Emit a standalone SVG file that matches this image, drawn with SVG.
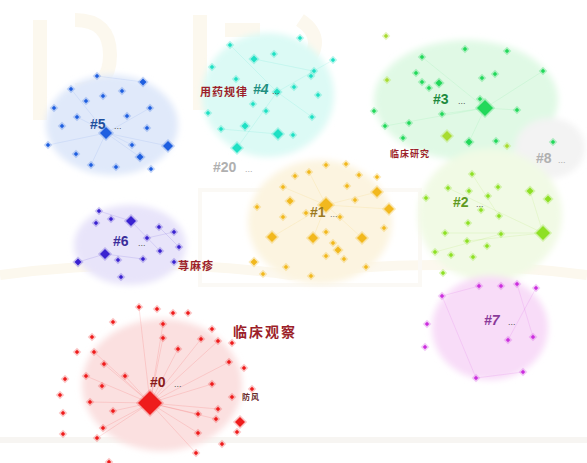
<svg xmlns="http://www.w3.org/2000/svg" xmlns:xlink="http://www.w3.org/1999/xlink" width="587" height="463" viewBox="0 0 587 463">
<defs>
<filter id="soft" x="-20%" y="-20%" width="140%" height="140%"><feGaussianBlur stdDeviation="3"/></filter>
<path id="d" d="M0,-2.2 L2.2,0 L0,2.2 L-2.2,0Z"/>
<path id="m" d="M0,-3.5 L3.5,0 L0,3.5 L-3.5,0Z"/>
<path id="b" d="M0,-5 L5,0 L0,5 L-5,0Z"/>
<style>
.hull{filter:url(#soft)}
.lbl{font-family:"Liberation Sans",Arial,sans-serif;font-weight:bold;font-size:14px}
.dots{font-family:"Liberation Sans",Arial,sans-serif;font-size:9px}
.cn{font-family:"Noto Sans CJK SC","Noto Sans",sans-serif;font-weight:bold;fill:#9c1f2a;letter-spacing:1px}
.g0{fill:#ee1c1c;stroke:#ee1c1c;stroke-opacity:.25;stroke-width:3}
.g1{fill:#f2b81e;stroke:#f2b81e;stroke-opacity:.3;stroke-width:3}
.g2{fill:#8ee024;stroke:#8ee024;stroke-opacity:.3;stroke-width:3}
.g3{fill:#22d85a;stroke:#22d85a;stroke-opacity:.3;stroke-width:3}
.g4{fill:#1fe0c4;stroke:#1fe0c4;stroke-opacity:.3;stroke-width:3}
.g5{fill:#1f5fe0;stroke:#1f5fe0;stroke-opacity:.25;stroke-width:3}
.g6{fill:#3a22d0;stroke:#3a22d0;stroke-opacity:.25;stroke-width:3}
.g7{fill:#cc2ede;stroke:#cc2ede;stroke-opacity:.25;stroke-width:3}
.yg{fill:#a8dc30;stroke:#a8dc30;stroke-opacity:.3;stroke-width:3}
.ln{fill:none;stroke-width:.6}
</style>
</defs>
<rect width="587" height="463" fill="#ffffff"/>
<g id="background" fill="none" stroke="#fcf8ee" stroke-width="14">
<path d="M40,20 L40,120 M75,20 Q110,20 110,55 Q110,90 75,90"/>
<path d="M200,15 L200,110 M225,30 L260,30 M300,20 Q330,40 300,70"/>
<path d="M0,275 Q150,255 290,275 Q430,255 587,275" stroke-width="10"/>
<path d="M0,440 L587,440" stroke="#f7f5f2" stroke-width="6"/>
<rect x="200" y="190" width="220" height="95" stroke="#fbf9f5" stroke-width="4"/>
</g>
<g id="hulls" class="hull">
<ellipse cx="112" cy="125" rx="66" ry="50" fill="#e0e9fa"/>
<ellipse cx="268" cy="95" rx="66" ry="62" fill="#dcfaf5"/>
<ellipse cx="466" cy="100" rx="92" ry="60" fill="#e0f9e5"/>
<ellipse cx="550" cy="148" rx="35" ry="30" fill="#f3f3f3"/>
<ellipse cx="490" cy="215" rx="72" ry="66" fill="#f1fae5"/>
<ellipse cx="320" cy="222" rx="72" ry="62" fill="#fcf4e0"/>
<ellipse cx="130" cy="245" rx="56" ry="40" fill="#e8e4fa"/>
<ellipse cx="490" cy="328" rx="58" ry="52" fill="#f8dcf8"/>
<ellipse cx="162" cy="385" rx="80" ry="66" fill="#fbe0e0"/>
</g>
<g id="connectors">
<g class="ln" stroke="#1f5fe0" stroke-opacity=".15"><path d="M106,133 L71,89 M106,133 L150,108 M106,133 L140,157 M106,133 L48,145 M106,133 L168,146 M106,133 L91,165 M97,76 L143,82 M77,117 L132,145"/></g>
<g class="ln" stroke="#1fe0c4" stroke-opacity=".2"><path d="M277,92 L230,45 M277,92 L333,60 M277,92 L237,148 M277,92 L312,117 M278,134 L221,129 M254,59 L313,71"/></g>
<g class="ln" stroke="#22d85a" stroke-opacity=".15"><path d="M485,108 L422,57 M485,108 L543,71 M485,108 L442,114 M485,108 L469,142 M485,108 L385,126 M485,108 L517,110"/></g>
<g class="ln" stroke="#8ee024" stroke-opacity=".2"><path d="M543,233 L448,188 M543,233 L445,233 M543,233 L467,241 M543,233 L530,191 M472,174 L499,216 M435,252 L501,234"/></g>
<g class="ln" stroke="#f2b81e" stroke-opacity=".2"><path d="M326,205 L283,187 M326,205 L377,192 M326,205 L272,237 M326,205 L362,238 M326,205 L313,238 M326,205 L309,172 M326,205 L389,209"/></g>
<g class="ln" stroke="#3a22d0" stroke-opacity=".2"><path d="M131,221 L160,251 M105,254 L143,259 M147,238 L174,232 M105,254 L78,262 M159,227 L179,247 M99,211 L131,221"/></g>
<g class="ln" stroke="#cc2ede" stroke-opacity=".2"><path d="M479,286 L442,296 M442,296 L476,378 M508,340 L536,288 M517,284 L533,337 M476,378 L523,372"/></g>
<g class="ln" stroke="#ee1c1c" stroke-opacity=".22"><path d="M150,403 L139,307 M150,403 L163,324 M150,403 L201,339 M150,403 L218,341 M150,403 L94,352 M150,403 L104,364 M150,403 L86,376 M150,403 L125,376 M150,403 L212,384 M150,403 L218,409 M150,403 L198,414 M150,403 L113,411 M150,403 L103,428 M150,403 L97,438 M150,403 L198,433 M150,403 L178,349 M150,403 L163,338 M150,403 L196,453 M150,403 L90,402 M150,403 L229,362 M150,403 L216,419"/></g>
</g>
<g id="cluster5">
<g class="g5">
<use xlink:href="#d" x="97" y="76"/><use xlink:href="#d" x="71" y="89"/><use xlink:href="#m" x="143" y="82"/><use xlink:href="#d" x="122" y="91"/><use xlink:href="#d" x="103" y="96"/><use xlink:href="#d" x="86" y="101"/><use xlink:href="#d" x="54" y="108"/><use xlink:href="#d" x="150" y="108"/><use xlink:href="#d" x="127" y="116"/><use xlink:href="#d" x="77" y="117"/><use xlink:href="#d" x="62" y="126"/><use xlink:href="#d" x="147" y="128"/><use xlink:href="#d" x="48" y="145"/><use xlink:href="#d" x="132" y="145"/><use xlink:href="#b" x="168" y="146"/><use xlink:href="#d" x="76" y="154"/><use xlink:href="#m" x="140" y="157"/><use xlink:href="#d" x="91" y="165"/><use xlink:href="#d" x="116" y="167"/><use xlink:href="#d" x="151" y="169"/>
<path d="M106,127 L112,133 L106,139 L100,133Z"/>
</g>
<text class="lbl" x="90" y="129" fill="#1e4f9e">#5</text><text class="dots" x="114" y="129" fill="#555">...</text>
</g>
<g id="cluster4">
<g class="g4">
<use xlink:href="#d" x="230" y="45"/><use xlink:href="#d" x="300" y="38"/><use xlink:href="#d" x="274" y="54"/><use xlink:href="#m" x="254" y="59"/><use xlink:href="#d" x="212" y="67"/><use xlink:href="#d" x="333" y="60"/><use xlink:href="#d" x="236" y="79"/><use xlink:href="#d" x="314" y="71"/><use xlink:href="#d" x="311" y="76"/><use xlink:href="#m" x="277" y="92"/><use xlink:href="#d" x="294" y="87"/><use xlink:href="#d" x="318" y="95"/><use xlink:href="#d" x="253" y="104"/><use xlink:href="#d" x="266" y="111"/><use xlink:href="#d" x="208" y="113"/><use xlink:href="#d" x="312" y="117"/><use xlink:href="#m" x="245" y="126"/><use xlink:href="#d" x="221" y="129"/><use xlink:href="#b" x="278" y="134"/><use xlink:href="#d" x="293" y="135"/><use xlink:href="#b" x="237" y="148"/>
</g>
<text class="lbl" x="253" y="94" fill="#1f8f80" font-style="italic">#4</text><text class="dots" x="272" y="94" fill="#555">...</text>
<text class="cn" x="200" y="96" style="font-size:11px">用药规律</text>
</g>
<g id="cluster3">
<g class="g3">
<use xlink:href="#d" x="465" y="49"/><use xlink:href="#d" x="507" y="51"/><use xlink:href="#d" x="422" y="57"/><use xlink:href="#d" x="416" y="73"/><use xlink:href="#d" x="429" y="88"/><use xlink:href="#m" x="439" y="83"/><use xlink:href="#d" x="422" y="82"/><use xlink:href="#d" x="482" y="78"/><use xlink:href="#d" x="495" y="74"/><use xlink:href="#d" x="543" y="71"/><use xlink:href="#d" x="374" y="111"/><use xlink:href="#d" x="480" y="99"/><use xlink:href="#d" x="442" y="114"/><use xlink:href="#d" x="517" y="110"/><use xlink:href="#d" x="385" y="126"/><use xlink:href="#d" x="409" y="123"/><use xlink:href="#d" x="403" y="138"/><use xlink:href="#m" x="469" y="142"/><use xlink:href="#d" x="496" y="141"/><use xlink:href="#d" x="553" y="142"/>
<path d="M485,100 L493,108 L485,116 L477,108Z"/>
</g>
<g class="yg"><use xlink:href="#d" x="386" y="36"/><use xlink:href="#d" x="387" y="80"/><use xlink:href="#b" x="447" y="136"/><use xlink:href="#d" x="507" y="146"/></g>
<text class="lbl" x="433" y="104" fill="#1d8a3e">#3</text><text class="dots" x="458" y="104" fill="#555">...</text>
<text class="cn" x="390" y="157" style="font-size:9px">临床研究</text>
</g>
<g id="cluster8">
<text class="lbl" x="536" y="163" fill="#b0b0b0">#8</text><text class="dots" x="558" y="163" fill="#aaa">...</text>
</g>
<g id="cluster20">
<text class="lbl" x="213" y="172" fill="#b0b0b0">#20</text><text class="dots" x="245" y="172" fill="#aaa">...</text>
</g>
<g id="cluster1">
<g class="g1">
<use xlink:href="#d" x="326" y="165"/><use xlink:href="#d" x="346" y="164"/><use xlink:href="#d" x="295" y="176"/><use xlink:href="#d" x="309" y="172"/><use xlink:href="#d" x="359" y="175"/><use xlink:href="#d" x="377" y="177"/><use xlink:href="#d" x="283" y="187"/><use xlink:href="#d" x="347" y="186"/><use xlink:href="#b" x="377" y="192"/><use xlink:href="#m" x="290" y="201"/><use xlink:href="#d" x="355" y="200"/><use xlink:href="#b" x="389" y="209"/><use xlink:href="#d" x="257" y="207"/><use xlink:href="#d" x="306" y="213"/><use xlink:href="#d" x="340" y="217"/><use xlink:href="#d" x="283" y="217"/><use xlink:href="#d" x="384" y="228"/><use xlink:href="#b" x="272" y="237"/><use xlink:href="#b" x="313" y="238"/><use xlink:href="#d" x="326" y="232"/><use xlink:href="#b" x="362" y="238"/><use xlink:href="#d" x="333" y="243"/><use xlink:href="#m" x="338" y="250"/><use xlink:href="#d" x="326" y="256"/><use xlink:href="#d" x="344" y="259"/><use xlink:href="#m" x="254" y="262"/><use xlink:href="#d" x="286" y="267"/><use xlink:href="#d" x="366" y="267"/><use xlink:href="#d" x="263" y="274"/><use xlink:href="#d" x="311" y="276"/>
<path d="M326,198 L333,205 L326,212 L319,205Z"/>
</g>
<text class="lbl" x="310" y="217" fill="#9c7a1e">#1</text><text class="dots" x="330" y="217" fill="#777">...</text>
</g>
<g id="cluster2">
<g class="g2">
<use xlink:href="#d" x="472" y="174"/><use xlink:href="#d" x="448" y="188"/><use xlink:href="#d" x="469" y="191"/><use xlink:href="#d" x="498" y="187"/><use xlink:href="#m" x="530" y="191"/><use xlink:href="#d" x="488" y="196"/><use xlink:href="#m" x="548" y="199"/><use xlink:href="#d" x="426" y="198"/><use xlink:href="#d" x="481" y="210"/><use xlink:href="#d" x="499" y="216"/><use xlink:href="#d" x="468" y="223"/><use xlink:href="#d" x="445" y="233"/><use xlink:href="#d" x="501" y="234"/><use xlink:href="#d" x="467" y="241"/><use xlink:href="#d" x="487" y="246"/><use xlink:href="#d" x="435" y="252"/><use xlink:href="#d" x="451" y="255"/><use xlink:href="#d" x="473" y="257"/><use xlink:href="#d" x="443" y="273"/>
<path d="M543,226 L550,233 L543,240 L536,233Z"/>
</g>
<text class="lbl" x="453" y="207" fill="#5f9a22">#2</text><text class="dots" x="476" y="207" fill="#666">...</text>
</g>
<g id="cluster6">
<g class="g6">
<use xlink:href="#d" x="99" y="211"/><use xlink:href="#d" x="111" y="219"/><use xlink:href="#b" x="131" y="221"/><use xlink:href="#d" x="96" y="223"/><use xlink:href="#d" x="159" y="227"/><use xlink:href="#d" x="174" y="232"/><use xlink:href="#d" x="147" y="238"/><use xlink:href="#d" x="179" y="247"/><use xlink:href="#d" x="160" y="251"/><use xlink:href="#b" x="105" y="254"/><use xlink:href="#m" x="78" y="262"/><use xlink:href="#d" x="118" y="260"/><use xlink:href="#d" x="143" y="259"/><use xlink:href="#d" x="174" y="262"/><use xlink:href="#d" x="121" y="277"/>
</g>
<text class="lbl" x="113" y="246" fill="#3b2d9a">#6</text><text class="dots" x="138" y="246" fill="#555">...</text>
<text class="cn" x="178" y="270" style="font-size:11px">荨麻疹</text>
</g>
<g id="cluster7">
<g class="g7">
<use xlink:href="#d" x="479" y="286"/><use xlink:href="#d" x="501" y="286"/><use xlink:href="#d" x="517" y="284"/><use xlink:href="#d" x="536" y="288"/><use xlink:href="#d" x="442" y="296"/><use xlink:href="#d" x="427" y="324"/><use xlink:href="#d" x="508" y="340"/><use xlink:href="#d" x="533" y="337"/><use xlink:href="#d" x="425" y="347"/><use xlink:href="#d" x="523" y="372"/><use xlink:href="#d" x="476" y="378"/>
</g>
<text class="lbl" x="484" y="325" fill="#8a3a9a" font-style="italic">#7</text><text class="dots" x="508" y="325" fill="#555">...</text>
</g>
<g id="cluster0">
<g class="g0">
<use xlink:href="#d" x="139" y="307"/><use xlink:href="#d" x="157" y="309"/><use xlink:href="#d" x="173" y="313"/><use xlink:href="#d" x="188" y="313"/><use xlink:href="#d" x="113" y="322"/><use xlink:href="#d" x="163" y="324"/><use xlink:href="#d" x="212" y="329"/><use xlink:href="#d" x="218" y="341"/><use xlink:href="#d" x="232" y="343"/><use xlink:href="#d" x="201" y="339"/><use xlink:href="#d" x="92" y="337"/><use xlink:href="#d" x="163" y="338"/><use xlink:href="#d" x="178" y="349"/><use xlink:href="#d" x="77" y="352"/><use xlink:href="#d" x="94" y="352"/><use xlink:href="#d" x="229" y="362"/><use xlink:href="#d" x="104" y="364"/><use xlink:href="#d" x="244" y="368"/><use xlink:href="#d" x="86" y="376"/><use xlink:href="#d" x="125" y="376"/><use xlink:href="#d" x="65" y="379"/><use xlink:href="#d" x="102" y="386"/><use xlink:href="#d" x="212" y="384"/><use xlink:href="#d" x="252" y="389"/><use xlink:href="#d" x="232" y="397"/><use xlink:href="#d" x="60" y="395"/><use xlink:href="#d" x="90" y="402"/><use xlink:href="#d" x="113" y="411"/><use xlink:href="#d" x="218" y="409"/><use xlink:href="#d" x="63" y="413"/><use xlink:href="#d" x="198" y="414"/><use xlink:href="#d" x="216" y="419"/><use xlink:href="#b" x="240" y="422"/><use xlink:href="#d" x="103" y="428"/><use xlink:href="#d" x="237" y="432"/><use xlink:href="#d" x="63" y="434"/><use xlink:href="#d" x="97" y="438"/><use xlink:href="#d" x="198" y="433"/><use xlink:href="#d" x="222" y="444"/><use xlink:href="#d" x="196" y="453"/><use xlink:href="#d" x="109" y="462"/>
<path d="M150,391 L162,403 L150,415 L138,403Z"/>
</g>
<text class="lbl" x="150" y="387" fill="#8a1a1a">#0</text><text class="dots" x="174" y="387" fill="#555">...</text>
<text class="cn" x="233" y="337" style="font-size:14px;letter-spacing:2px">临床观察</text>
<text class="cn" x="242" y="400" style="font-size:8px;fill:#6a2a2a">防风</text>
</g>
</svg>
